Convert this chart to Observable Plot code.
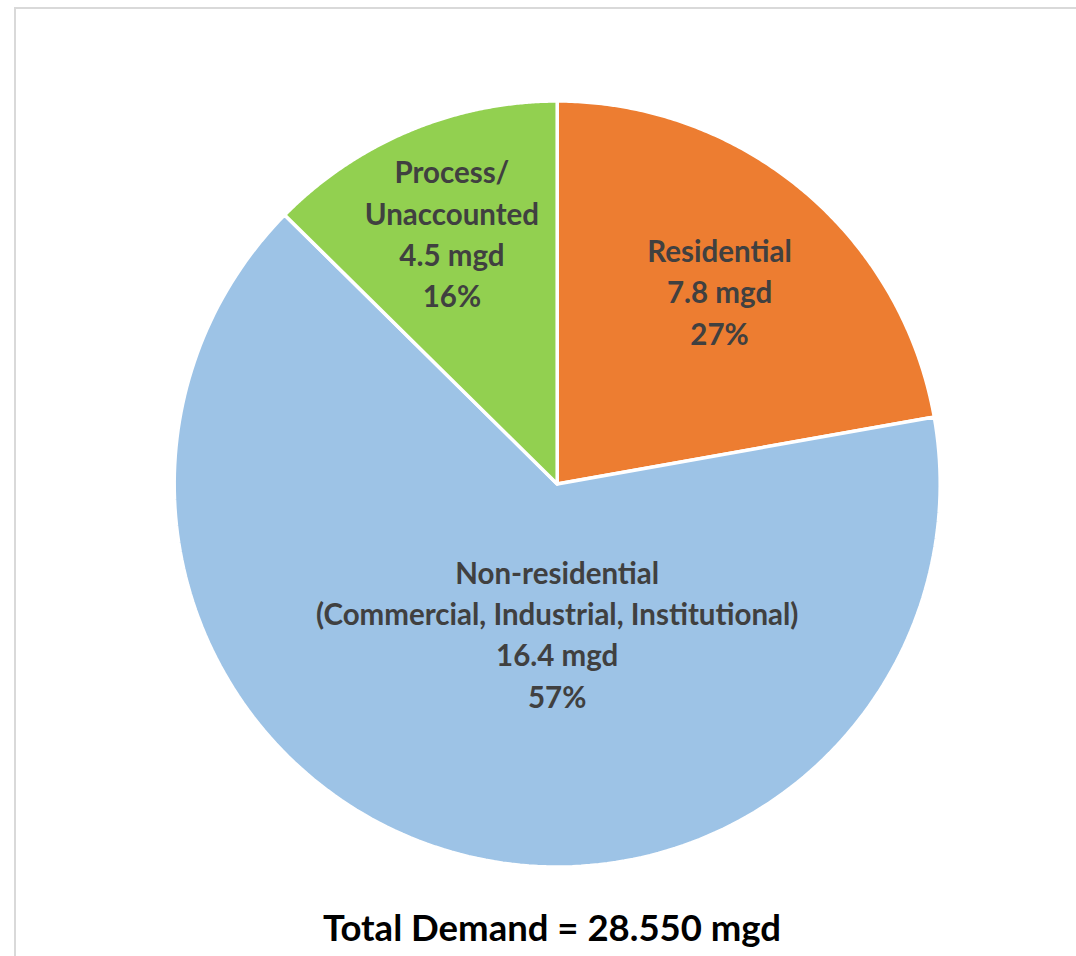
<!DOCTYPE html>
<html>
<head>
<meta charset="utf-8">
<script src="https://cdn.jsdelivr.net/npm/d3@7"></script>
<script src="https://cdn.jsdelivr.net/npm/@observablehq/plot@0.6"></script>
<style>
  html, body { margin: 0; padding: 0; background: #fff; overflow: hidden; }
  #wrap { position: relative; width: 1076px; height: 956px; }
  #frame { position: absolute; left: 14px; top: 7px; width: 1070px; height: 960px;
           border-top: 2px solid #d9d9d9; border-left: 2px solid #d9d9d9; }
  #chart { position: absolute; left: 0; top: 0; }
  #title { position: absolute; left: 552px; top: 906px; transform: translateX(-50%);
           font-family: Lato, "Open Sans", sans-serif; font-weight: bold; font-size: 36.5px;
           line-height: 42px; color: #000; white-space: nowrap; }
</style>
</head>
<body>
<div id="wrap">
  <div id="frame"></div>
  <div id="chart"></div>
  <div id="title"></div>
</div>
<script>
// ---- data ----
const sliceNames = ["Residential", "Non-residential", "Process/Unaccounted"];
// wedge sizes as drawn in the picture (percent of the circle)
const sliceShares = [22.2, 65.2, 12.6];
const sliceColors = ["#ED7D31", "#9DC3E6", "#92D050"];
const labelNames = ["Residential", "Non-residential\n(Commercial, Industrial, Institutional)", "Process/\nUnaccounted"];
const labelMgd = [7.8, 16.4, 4.5];
const labelPct = [27, 57, 16];
const totalDemand = "28.550";

// ---- geometry ----
const arcs = d3.pie().sort(null).value(d => d)(sliceShares);
const steps = 180;
const slicePts = [];
arcs.forEach((a, i) => {
  slicePts.push({name: sliceNames[i], x: 0, y: 0});
  for (let k = 0; k <= steps; k++) {
    const t = a.startAngle + (a.endAngle - a.startAngle) * k / steps;
    slicePts.push({name: sliceNames[i], x: Math.sin(t), y: Math.cos(t)});
  }
  slicePts.push({name: sliceNames[i], x: 0, y: 0});
});

// label anchoring: small wedges at their mid-angle, the big one straight below the centre
const labelRadius = [0.66, 0.388, 0.713];
const labels = arcs.map((a, i) => {
  const big = sliceShares[i] === d3.max(sliceShares);
  const mid = big ? Math.PI : (a.startAngle + a.endAngle) / 2;
  return {
    x: Math.sin(mid) * labelRadius[i],
    y: Math.cos(mid) * labelRadius[i],
    text: `${labelNames[i]}\n${labelMgd[i]} mgd\n${labelPct[i]}%`
  };
});

const chart = Plot.plot({
  width: 1076,
  height: 900,
  marginLeft: 173.7,
  marginRight: 136.3,
  marginTop: 100.5,
  marginBottom: 33.5,
  x: {domain: [-1, 1], axis: null},
  y: {domain: [-1, 1], axis: null},
  color: {domain: sliceNames, range: sliceColors},
  style: {background: "transparent"},
  marks: [
    Plot.line(slicePts, {x: "x", y: "y", z: "name", fill: "name", stroke: "white",
                         strokeWidth: 3.5, strokeLinejoin: "miter", curve: "linear"}),
    Plot.text(labels, {x: "x", y: "y", text: "text", fontSize: 29.5, fontWeight: "bold",
                       fontFamily: "Lato", fill: "#404040", lineHeight: 1.4,
                       lineAnchor: "middle", textAnchor: "middle"})
  ]
});
document.getElementById("chart").appendChild(chart);
document.getElementById("title").textContent = `Total Demand = ${totalDemand} mgd`;
</script>
</body>
</html>
